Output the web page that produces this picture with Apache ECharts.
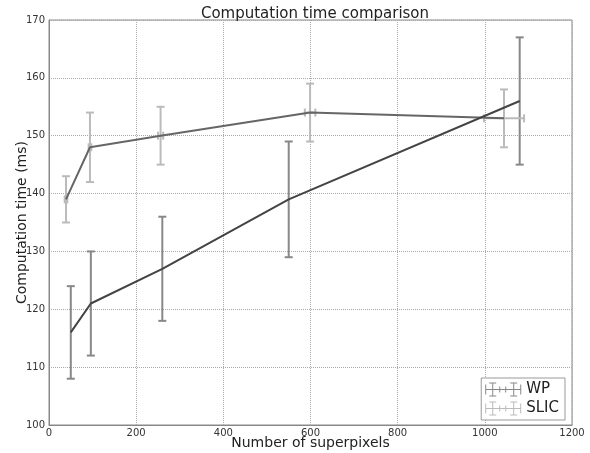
<!DOCTYPE html>
<html><head><meta charset="utf-8">
<script src="https://cdn.jsdelivr.net/npm/echarts@6/dist/echarts.min.js"></script>
<style>html,body{margin:0;padding:0;background:#fff}#c{width:590px;height:453px}</style>
</head><body><div id="c"></div>
<script>
var wpX = [50, 96, 260, 550, 1080];
var wpY = [116, 121, 127, 139, 156];
var wpErr = [8, 9, 9, 10, 11];
var wpXErr = [1, 1, 1, 1, 1];
var slicX = [39, 94, 256, 599, 1044];
var slicY = [139, 148, 150, 154, 153];
var slicErr = [4, 6, 5, 5, 5];
var slicXErr = [3, 3, 6, 12, 46];
var xTicks = [0, 200, 400, 600, 800, 1000, 1200];
var yTicks = [100, 110, 120, 130, 140, 150, 160, 170];

var FONT = 'DejaVu Sans';
function pts(xs, ys){ return xs.map(function(x,i){return [x, ys[i]];}); }
function errData(xs, ys, e, xe){ return xs.map(function(x,i){return [x, ys[i], e[i], xe[i]];}); }
function errRender(color){
  return function(params, api){
    var x = api.value(0), y = api.value(1), e = api.value(2), xe = api.value(3);
    var top = api.coord([x, y + e]), bot = api.coord([x, y - e]);
    var lft = api.coord([x - xe, y]), rgt = api.coord([x + xe, y]);
    var cap = 4;
    var st = {stroke: color, lineWidth: 2, fill: null};
    var ch = [
      {type:'line', shape:{x1:top[0],y1:top[1],x2:bot[0],y2:bot[1]}, style:st},
      {type:'line', shape:{x1:top[0]-cap,y1:top[1],x2:top[0]+cap,y2:top[1]}, style:st},
      {type:'line', shape:{x1:bot[0]-cap,y1:bot[1],x2:bot[0]+cap,y2:bot[1]}, style:st}
    ];
    if (rgt[0] - lft[0] > 2) {
      ch.push({type:'line', shape:{x1:lft[0],y1:lft[1],x2:rgt[0],y2:rgt[1]}, style:st});
      ch.push({type:'line', shape:{x1:lft[0],y1:lft[1]-cap,x2:lft[0],y2:lft[1]+cap}, style:st});
      ch.push({type:'line', shape:{x1:rgt[0],y1:rgt[1]-cap,x2:rgt[0],y2:rgt[1]+cap}, style:st});
    }
    return {type: 'group', children: ch};
  };
}
var icon = 'path://M0,8.5L36,8.5L36,9.5L0,9.5Z M0,4L1,4L1,14L0,14Z M35,4L36,4L36,14L35,14Z M7,2L8,2L8,16L7,16Z M4,2L11,2L11,3L4,3Z M4,15L11,15L11,16L4,16Z M28,2L29,2L29,16L28,16Z M25,2L32,2L32,3L25,3Z M25,15L32,15L32,16L25,16Z M14,6L15,6L15,12L14,12Z M20,6L21,6L21,12L20,12Z';

var chart = echarts.init(document.getElementById('c'));
chart.setOption({
  animation: false,
  backgroundColor: '#fff',
  title: {text: 'Computation time comparison', left: 310, top: 2, textAlign: 'center',
    textStyle: {fontFamily: FONT, fontSize: 15, fontWeight: 'normal', color: '#222'}},
  grid: {left: 49, right: 18, top: 20, bottom: 28, containLabel: false, outerBoundsMode: 'none',
    show: true, borderColor: '#888', borderWidth: 1, backgroundColor: 'transparent'},
  legend: {orient: 'vertical', right: 25, bottom: 33, itemWidth: 36, itemHeight: 18, itemGap: 4,
    padding: [4, 6, 4, 4], borderColor: '#999', borderWidth: 1, backgroundColor: '#fff',
    textStyle: {fontFamily: FONT, fontSize: 15, color: '#222'},
    data: [
      {name: 'WP', icon: icon, itemStyle: {color: '#888'}},
      {name: 'SLIC', icon: icon, itemStyle: {color: '#bbb'}}
    ]},
  xAxis: {type: 'value', min: 0, max: 1200, interval: 200,
    name: 'Number of superpixels', nameLocation: 'middle', nameGap: 11, nameMoveOverlap: false,
    nameTextStyle: {fontFamily: FONT, fontSize: 14, color: '#222'},
    axisLine: {lineStyle: {color: '#888'}}, axisTick: {show: false},
    axisLabel: {fontFamily: FONT, fontSize: 10, color: '#333', margin: 3, formatter: function(v){return String(v);}},
    splitLine: {lineStyle: {color: '#aaa', type: [1, 1], width: 1}}},
  yAxis: {type: 'value', min: 100, max: 170, interval: 10,
    name: 'Computation time (ms)', nameLocation: 'middle', nameGap: 20, nameMoveOverlap: false,
    nameTextStyle: {fontFamily: FONT, fontSize: 14, color: '#222'},
    axisLine: {show: true, lineStyle: {color: '#888'}}, axisTick: {show: false},
    axisLabel: {fontFamily: FONT, fontSize: 10, color: '#333', margin: 4, formatter: function(v){return String(v);}},
    splitLine: {lineStyle: {color: '#aaa', type: [1, 1], width: 1}}},
  series: [
    {name: 'WPerr', type: 'custom', renderItem: errRender('#888'), data: errData(wpX, wpY, wpErr, wpXErr), z: 2, silent: true},
    {name: 'SLICerr', type: 'custom', renderItem: errRender('#bbb'), data: errData(slicX, slicY, slicErr, slicXErr), z: 2, silent: true},
    {name: 'SLIC', type: 'line', data: pts(slicX, slicY), symbol: 'none', lineStyle: {color: '#666', width: 2}, itemStyle: {color: '#bbb'}, z: 3},
    {name: 'WP', type: 'line', data: pts(wpX, wpY), symbol: 'none', lineStyle: {color: '#444', width: 2}, itemStyle: {color: '#888'}, z: 3}
  ]
});
</script></body></html>
